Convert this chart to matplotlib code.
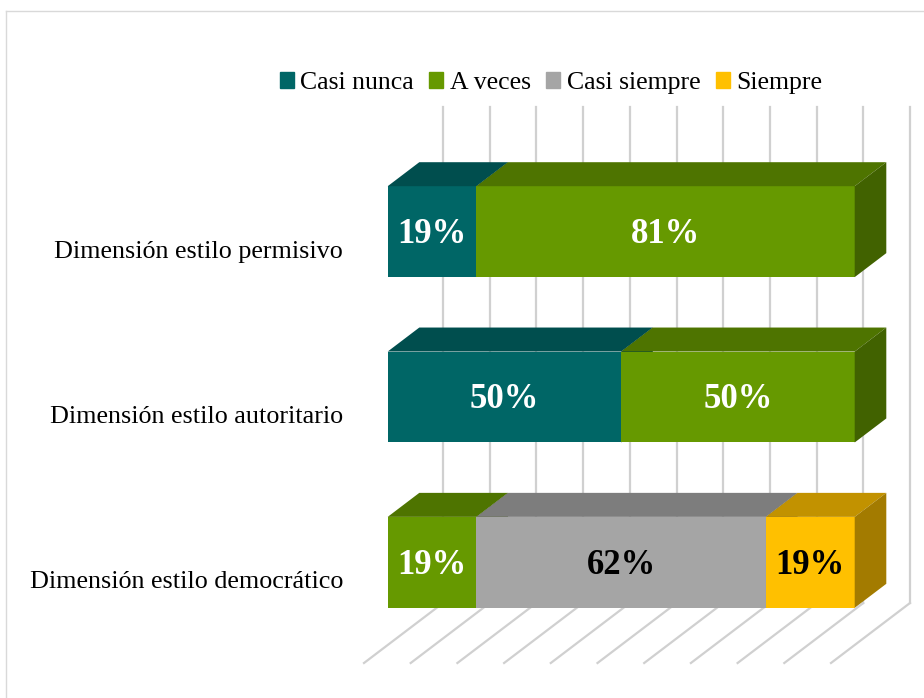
import matplotlib.pyplot as plt
import matplotlib.patches as mpatches
import matplotlib.colors as mcolors
from matplotlib.lines import Line2D
from matplotlib.transforms import Affine2D, IdentityTransform
import numpy as np

categories = ["Dimensión estilo permisivo", "Dimensión estilo autoritario",
              "Dimensión estilo democrático"]
series = ["Casi nunca", "A veces", "Casi siempre", "Siempre"]
casi_nunca = [19, 50, 0]
a_veces = [81, 50, 19]
casi_siempre = [0, 0, 62]
siempre = [0, 0, 19]
values = [casi_nunca, a_veces, casi_siempre, siempre]
colors = ["#006666", "#669900", "#a5a5a5", "#ffc000"]
label_colors = ["white", "white", "black", "black"]

plt.rcParams["font.family"] = ["Liberation Serif", "DejaVu Serif"]
DEPTH_PX = (79, 60)      # shift from the front floor edge to the back wall
Z_FRONT, Z_BACK = 0.30, 0.70
BAR_H = 0.55
GRID = "#d0d0d0"

fig = plt.figure(figsize=(9.24, 6.98), dpi=100)
ax = fig.add_axes([364 / 924, 35 / 698, 467 / 924, 496 / 698])
ax.set_xlim(0, 100)
ax.set_ylim(2.5, -0.5)
ax.axis("off")


def proj(x, y, z):
    px, py = ax.transData.transform((x, y))
    return px + z * DEPTH_PX[0], py + z * DEPTH_PX[1]


def depth(z, dx=0, dy=0):
    return ax.transData + Affine2D().translate(z * DEPTH_PX[0] + dx, z * DEPTH_PX[1] + dy)


def poly(pts, color, zorder):
    p = mpatches.Polygon(pts, closed=True, facecolor=color, edgecolor="none",
                         transform=IdentityTransform(), clip_on=False, zorder=zorder)
    ax.add_patch(p)


def shade(c, f):
    return tuple(np.array(mcolors.to_rgb(c)) * f)


# back wall gridlines and floor lines
ticks = np.arange(0, 101, 10)
for t in ticks:
    x0, y0 = proj(t, 2.5, 1)
    x1, y1 = proj(t, -0.5, 1)
    ax.add_line(Line2D([x0, x1], [y0, y1], color=GRID, lw=1.6,
                       transform=IdentityTransform(), clip_on=False, zorder=1))
    fx, fy = proj(t, 2.5, 0)
    ax.add_line(Line2D([fx, x0], [fy, y0], color=GRID, lw=1.6,
                       transform=IdentityTransform(), clip_on=False, zorder=1))

# 3D stacked bars
for ci, cat in enumerate(categories):
    left = 0
    top, bot = ci - BAR_H / 2, ci + BAR_H / 2
    for si, s in enumerate(series):
        w = values[si][ci]
        if w <= 0:
            continue
        c = colors[si]
        right = left + w
        zo = 3 + si
        # front face
        poly([proj(left, top, Z_FRONT), proj(right, top, Z_FRONT),
              proj(right, bot, Z_FRONT), proj(left, bot, Z_FRONT)], c, zo)
        # top face
        poly([proj(left, top, Z_FRONT), proj(right, top, Z_FRONT),
              proj(right, top, Z_BACK), proj(left, top, Z_BACK)], shade(c, 0.76), zo)
        # side face
        poly([proj(right, top, Z_FRONT), proj(right, bot, Z_FRONT),
              proj(right, bot, Z_BACK), proj(right, top, Z_BACK)], shade(c, 0.64), zo)
        ax.text((left + right) / 2, ci, f"{w}%", transform=depth(Z_FRONT, 0, -3),
                ha="center", va="center", fontsize=25, fontweight="bold",
                color=label_colors[si], zorder=10)
        left = right
    ax.text(0, ci, cat, transform=depth(0, -21, -2),
            ha="right", va="center", fontsize=18.8, color="black")

# legend
handles = [mpatches.Patch(color=c, label=s) for c, s in zip(colors, series)]
fig.legend(handles=handles, loc="center", bbox_to_anchor=(551 / 924, 1 - 83 / 698),
           ncol=4, frameon=False, handlelength=0.55, handleheight=0.55,
           handletextpad=0.25, columnspacing=0.6, fontsize=18.5)

# chart area border
fig.add_artist(Line2D([6 / 924, 6 / 924], [0, 1 - 11 / 698], color="#d9d9d9", lw=1,
                      transform=fig.transFigure))
fig.add_artist(Line2D([6 / 924, 1], [1 - 11 / 698, 1 - 11 / 698], color="#d9d9d9", lw=1,
                      transform=fig.transFigure))

fig.savefig("out.png", dpi=100)
